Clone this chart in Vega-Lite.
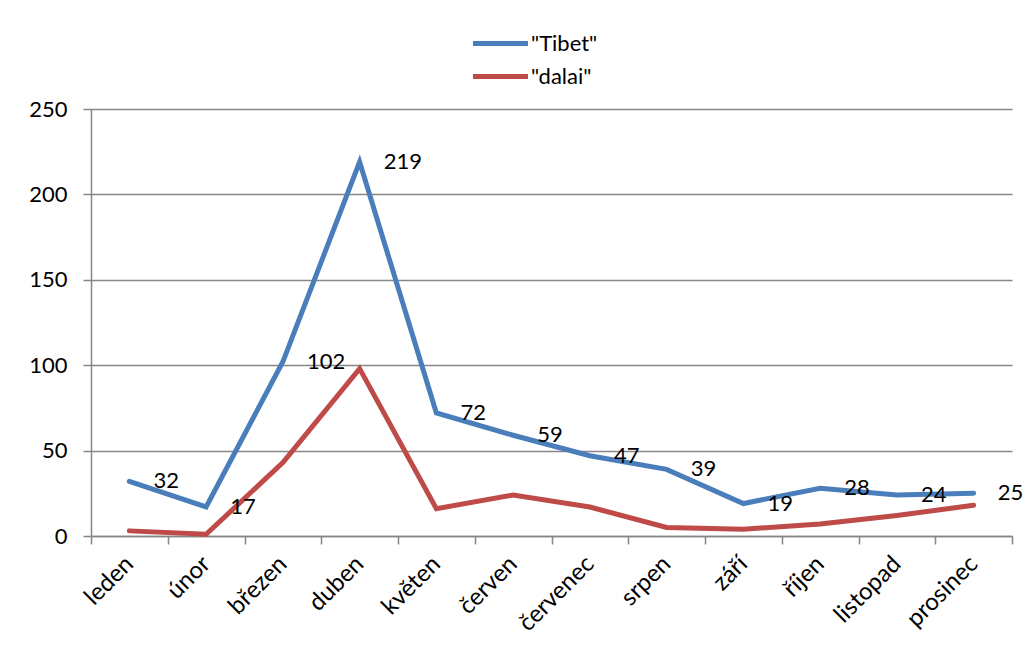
{
  "$schema": "https://vega.github.io/schema/vega-lite/v6.json",
  "autosize": {"type": "none"},
  "padding": {"left": 91, "top": 109, "right": 17, "bottom": 118},
  "width": 921,
  "height": 427,
  "background": "white",
  "config": {
    "font": "Lato",
    "view": {"stroke": null},
    "axis": {
      "labelFont": "Lato",
      "labelFontSize": 22,
      "labelColor": "#000000",
      "domainColor": "#868686",
      "domainWidth": 1.5,
      "tickColor": "#868686",
      "tickWidth": 1.5,
      "tickSize": 8,
      "gridColor": "#868686",
      "gridWidth": 1.5
    }
  },
  "data": {
    "values": [
      {"mesic": "leden", "serie": "\"Tibet\"", "pocet": 32},
      {"mesic": "únor", "serie": "\"Tibet\"", "pocet": 17},
      {"mesic": "březen", "serie": "\"Tibet\"", "pocet": 102},
      {"mesic": "duben", "serie": "\"Tibet\"", "pocet": 219},
      {"mesic": "květen", "serie": "\"Tibet\"", "pocet": 72},
      {"mesic": "červen", "serie": "\"Tibet\"", "pocet": 59},
      {"mesic": "červenec", "serie": "\"Tibet\"", "pocet": 47},
      {"mesic": "srpen", "serie": "\"Tibet\"", "pocet": 39},
      {"mesic": "září", "serie": "\"Tibet\"", "pocet": 19},
      {"mesic": "říjen", "serie": "\"Tibet\"", "pocet": 28},
      {"mesic": "listopad", "serie": "\"Tibet\"", "pocet": 24},
      {"mesic": "prosinec", "serie": "\"Tibet\"", "pocet": 25},
      {"mesic": "leden", "serie": "\"dalai\"", "pocet": 3},
      {"mesic": "únor", "serie": "\"dalai\"", "pocet": 1},
      {"mesic": "březen", "serie": "\"dalai\"", "pocet": 43},
      {"mesic": "duben", "serie": "\"dalai\"", "pocet": 98},
      {"mesic": "květen", "serie": "\"dalai\"", "pocet": 16},
      {"mesic": "červen", "serie": "\"dalai\"", "pocet": 24},
      {"mesic": "červenec", "serie": "\"dalai\"", "pocet": 17},
      {"mesic": "srpen", "serie": "\"dalai\"", "pocet": 5},
      {"mesic": "září", "serie": "\"dalai\"", "pocet": 4},
      {"mesic": "říjen", "serie": "\"dalai\"", "pocet": 7},
      {"mesic": "listopad", "serie": "\"dalai\"", "pocet": 12},
      {"mesic": "prosinec", "serie": "\"dalai\"", "pocet": 18}
    ]
  },
  "encoding": {
    "x": {
      "field": "mesic",
      "type": "ordinal",
      "sort": null,
      "scale": {"type": "band", "paddingInner": 0, "paddingOuter": 0},
      "axis": {
        "title": null,
        "tickBand": "extent",
        "labelAngle": -45,
        "labelAlign": "right",
        "labelBaseline": "middle",
        "labelFontSize": 24,
        "labelPadding": 16
      }
    },
    "y": {
      "field": "pocet",
      "type": "quantitative",
      "scale": {"domain": [0, 250], "nice": false, "zero": true},
      "axis": {
        "title": null,
        "values": [0, 50, 100, 150, 200, 250],
        "labelPadding": 16,
        "grid": true
      }
    }
  },
  "layer": [
    {
      "mark": {"type": "line", "strokeWidth": 5, "strokeCap": "round", "strokeJoin": "miter"},
      "encoding": {
        "color": {
          "field": "serie",
          "type": "nominal",
          "sort": ["\"Tibet\"", "\"dalai\""],
          "scale": {"domain": ["\"Tibet\"", "\"dalai\""], "range": ["#4A7EBB", "#BE4B48"]},
          "legend": {
            "title": null,
            "orient": "none",
            "legendX": 393,
            "legendY": -82,
            "direction": "vertical",
            "symbolType": "M-2,0H2",
            "symbolSize": 756,
            "symbolStrokeWidth": 5,
            "symbolFillColor": "transparent",
            "labelFont": "Lato",
            "labelFontSize": 22,
            "labelColor": "#000000",
            "labelOffset": 14,
            "rowPadding": 5
          }
        }
      }
    },
    {
      "transform": [{"filter": "datum.serie === '\"Tibet\"'"}],
      "mark": {
        "type": "text",
        "align": "left",
        "baseline": "middle",
        "dx": 24,
        "fontSize": 22,
        "font": "Lato",
        "color": "#000000"
      },
      "encoding": {"text": {"field": "pocet", "type": "quantitative"}}
    }
  ]
}
